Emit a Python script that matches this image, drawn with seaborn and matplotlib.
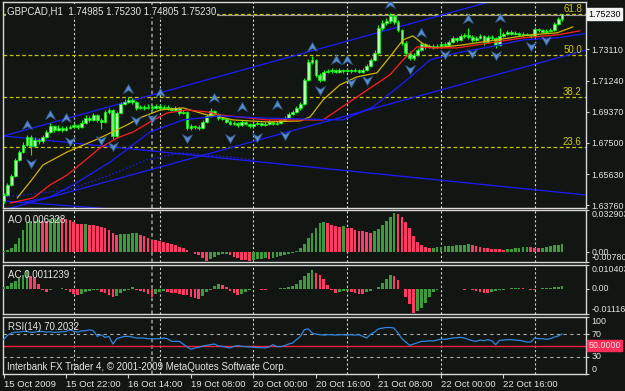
import numpy as np
import matplotlib
matplotlib.use('Agg')
import matplotlib.pyplot as plt
import matplotlib.transforms as mtransforms
from matplotlib.path import Path
import seaborn as sns

sns.set_theme(style='dark')
plt.rcParams['font.family'] = ['Liberation Sans', 'DejaVu Sans']

# ---------------- data ----------------
first_open = 1.6400
closes = [1.6438,1.6498,1.6552,1.6648,1.6696,1.6738,1.6786,1.6732,1.6768,1.6762,
          1.6786,1.6816,1.6852,1.6828,1.6840,1.6828,1.6840,1.6846,1.6858,1.6846,
          1.6870,1.6900,1.6888,1.6918,1.6888,1.6876,1.6936,1.6948,1.6790,1.6930,
          1.6984,1.6996,1.7008,1.6996,1.6960,1.6966,1.6960,1.6966,1.6960,1.6972,
          1.6960,1.6966,1.6960,1.6948,1.6960,1.6930,1.6936,1.6840,1.6852,1.6846,
          1.6840,1.6876,1.6912,1.6942,1.6924,1.6900,1.6894,1.6876,1.6864,1.6870,
          1.6858,1.6876,1.6864,1.6852,1.6864,1.6870,1.6858,1.6864,1.6876,1.6864,
          1.6870,1.6888,1.6900,1.6924,1.6936,1.6960,1.6984,1.7128,1.7236,1.7248,
          1.7158,1.7128,1.7176,1.7182,1.7188,1.7176,1.7188,1.7182,1.7188,1.7182,
          1.7188,1.7176,1.7188,1.7212,1.7248,1.7290,1.7440,1.7470,1.7482,1.7512,
          1.7476,1.7428,1.7350,1.7290,1.7260,1.7278,1.7308,1.7344,1.7326,1.7332,
          1.7326,1.7332,1.7344,1.7338,1.7356,1.7380,1.7368,1.7392,1.7398,1.7386,
          1.7368,1.7380,1.7392,1.7356,1.7386,1.7380,1.7338,1.7392,1.7404,1.7416,
          1.7404,1.7410,1.7398,1.7404,1.7398,1.7392,1.7434,1.7428,1.7416,1.7422,
          1.7428,1.7464,1.7494,1.7523]
highs = [1.6450,1.6510,1.6565,1.6660,1.6710,1.6755,1.6800,1.6795,1.6785,1.6780,
         1.6800,1.6830,1.6870,1.6860,1.6855,1.6850,1.6852,1.6858,1.6870,1.6866,
         1.6885,1.6915,1.6910,1.6932,1.6925,1.6898,1.6950,1.6962,1.6955,1.6942,
         1.6998,1.7012,1.7024,1.7020,1.7002,1.6980,1.6978,1.6985,1.6978,1.6985,
         1.6982,1.6978,1.6975,1.6968,1.6970,1.6966,1.6948,1.6942,1.6862,1.6860,
         1.6858,1.6888,1.6925,1.6960,1.6950,1.6930,1.6908,1.6900,1.6885,1.6880,
         1.6878,1.6888,1.6884,1.6870,1.6875,1.6880,1.6878,1.6875,1.6886,1.6884,
         1.6880,1.6898,1.6912,1.6935,1.6948,1.6972,1.6996,1.7140,1.7255,1.7270,
         1.7255,1.7170,1.7190,1.7195,1.7198,1.7196,1.7198,1.7196,1.7198,1.7195,
         1.7198,1.7196,1.7198,1.7225,1.7262,1.7305,1.7455,1.7490,1.7500,1.7530,
         1.7520,1.7485,1.7436,1.7360,1.7302,1.7292,1.7320,1.7356,1.7352,1.7345,
         1.7342,1.7345,1.7356,1.7355,1.7368,1.7392,1.7388,1.7405,1.7410,1.7440,
         1.7396,1.7392,1.7404,1.7400,1.7398,1.7396,1.7388,1.7440,1.7416,1.7428,
         1.7425,1.7420,1.7418,1.7414,1.7412,1.7406,1.7446,1.7442,1.7436,1.7432,
         1.7438,1.7476,1.7505,1.7523]
lows = [1.6390,1.6430,1.6490,1.6545,1.6640,1.6690,1.6730,1.6680,1.6725,1.6745,
        1.6750,1.6778,1.6810,1.6815,1.6820,1.6818,1.6822,1.6832,1.6838,1.6836,
        1.6840,1.6862,1.6878,1.6880,1.6875,1.6835,1.6870,1.6925,1.6775,1.6780,
        1.6922,1.6975,1.6988,1.6985,1.6950,1.6952,1.6950,1.6952,1.6950,1.6952,
        1.6950,1.6952,1.6950,1.6940,1.6940,1.6920,1.6922,1.6830,1.6830,1.6835,
        1.6830,1.6832,1.6868,1.6905,1.6915,1.6890,1.6885,1.6868,1.6855,1.6855,
        1.6848,1.6850,1.6856,1.6842,1.6845,1.6856,1.6850,1.6850,1.6856,1.6856,
        1.6856,1.6862,1.6880,1.6892,1.6915,1.6928,1.6950,1.6978,1.7120,1.7225,
        1.7145,1.7115,1.7120,1.7168,1.7172,1.7168,1.7170,1.7172,1.7174,1.7172,
        1.7174,1.7168,1.7170,1.7180,1.7205,1.7240,1.7282,1.7430,1.7460,1.7470,
        1.7465,1.7415,1.7338,1.7275,1.7245,1.7250,1.7270,1.7300,1.7316,1.7318,
        1.7316,1.7318,1.7322,1.7328,1.7330,1.7348,1.7358,1.7360,1.7382,1.7376,
        1.7356,1.7360,1.7372,1.7340,1.7348,1.7370,1.7320,1.7330,1.7384,1.7396,
        1.7396,1.7396,1.7390,1.7390,1.7390,1.7382,1.7385,1.7418,1.7408,1.7408,
        1.7414,1.7420,1.7456,1.7481]

ao = [0.00054,0.00136,0.00325,0.00596,0.01084,0.01762,0.02249,0.02439,0.02466,0.02520,
      0.02466,0.02439,0.02547,0.02629,0.02710,0.02683,0.02602,0.02493,0.02331,0.02222,
      0.02168,0.02195,0.02141,0.02114,0.02060,0.01951,0.01843,0.01734,0.01518,0.01355,
      0.01382,0.01409,0.01436,0.01491,0.01518,0.01355,0.01220,0.01084,0.00976,0.00921,
      0.00867,0.00813,0.00705,0.00596,0.00515,0.00407,0.00298,0.00163,0.00020,-0.00136,
      -0.00271,-0.00488,-0.00678,-0.00542,-0.00379,-0.00271,-0.00190,-0.00163,-0.00271,-0.00379,
      -0.00488,-0.00596,-0.00650,-0.00705,-0.00596,-0.00542,-0.00515,-0.00488,-0.00542,-0.00434,
      -0.00352,-0.00298,-0.00244,-0.00163,-0.00054,0.00081,0.00325,0.00596,0.01084,0.01491,
      0.01897,0.02249,0.02385,0.02249,0.02114,0.02033,0.01978,0.02060,0.01897,0.01843,
      0.01762,0.01680,0.01626,0.01572,0.01491,0.01626,0.01789,0.02114,0.02439,0.02764,
      0.03035,0.02981,0.02764,0.02385,0.01897,0.01220,0.00813,0.00542,0.00407,0.00325,
      0.00352,0.00379,0.00407,0.00434,0.00461,0.00488,0.00515,0.00542,0.00569,0.00596,
      0.00542,0.00488,0.00407,0.00352,0.00298,0.00271,0.00244,0.00217,0.00190,0.00217,
      0.00271,0.00325,0.00352,0.00379,0.00407,0.00379,0.00352,0.00325,0.00352,0.00407,
      0.00461,0.00515,0.00569,0.00633]

ac = [0.00077,0.00138,0.00260,0.00352,0.00459,0.00612,0.00842,0.00566,0.00459,0.00199,
      -0.00077,-0.00138,-0.00077,-0.00031,-0.00015,0.00015,-0.00077,-0.00153,-0.00230,-0.00291,
      -0.00230,-0.00153,-0.00107,-0.00077,-0.00046,-0.00153,-0.00199,-0.00275,-0.00383,-0.00306,
      -0.00184,-0.00107,-0.00046,0.00077,-0.00046,-0.00107,-0.00168,-0.00230,-0.00352,-0.00230,
      -0.00153,-0.00107,-0.00153,-0.00184,-0.00199,-0.00230,-0.00260,-0.00275,-0.00383,-0.00413,
      -0.00459,-0.00306,-0.00153,-0.00046,0.00107,0.00199,0.00153,0.00077,-0.00107,-0.00184,
      -0.00275,-0.00230,-0.00153,-0.00077,-0.00015,-0.00031,-0.00046,-0.00061,-0.00031,-0.00015,
      0.00005,0.00015,0.00046,0.00077,0.00107,0.00199,0.00383,0.00536,0.00689,0.00842,
      0.00689,0.00612,0.00413,0.00153,-0.00077,-0.00199,-0.00153,-0.00122,-0.00107,-0.00153,
      -0.00199,-0.00214,-0.00230,-0.00153,-0.00107,-0.00031,0.00077,0.00260,0.00413,0.00612,
      0.00566,0.00383,0.00000,-0.00383,-0.00658,-0.01071,-0.00995,-0.00842,-0.00612,-0.00383,
      -0.00153,-0.00077,-0.00015,-0.00031,-0.00015,-0.00031,-0.00015,-0.00031,-0.00046,-0.00015,
      -0.00046,-0.00107,-0.00153,-0.00184,-0.00199,-0.00153,-0.00107,-0.00077,-0.00046,-0.00015,
      0.00015,0.00031,0.00046,0.00015,-0.00015,-0.00046,-0.00061,-0.00015,0.00015,0.00031,
      0.00046,0.00061,0.00077,0.00112]

rsi = [60.2,67.7,71.8,73.5,73.5,74.7,74.7,72.9,73.5,74.7,
       74.7,73.5,74.1,72.9,73.5,74.1,74.7,77.6,74.7,73.5,
       75.8,75.8,77.6,75.8,66.0,68.9,64.2,66.0,52.6,61.9,
       64.2,66.0,66.0,64.8,63.1,63.1,63.1,61.9,61.9,61.9,
       61.9,63.1,61.9,57.3,57.3,57.3,52.6,47.4,43.4,45.7,
       46.8,49.2,50.3,51.5,52.6,49.2,48.6,46.8,45.7,48.6,
       49.7,48.6,48.0,47.4,46.8,46.3,46.3,45.7,47.4,51.5,
       48.0,48.0,49.7,52.6,54.4,60.2,66.0,77.6,79.3,71.8,
       70.0,68.9,68.3,68.9,68.9,68.3,68.9,68.9,68.3,68.9,
       68.3,68.9,66.0,63.1,70.0,73.5,79.3,80.5,81.6,81.6,
       80.5,71.8,61.9,56.1,50.3,52.6,55.0,57.3,57.3,58.4,
       57.9,59.6,61.3,60.8,61.9,63.1,63.7,64.2,63.1,60.8,
       58.4,57.3,59.6,58.4,60.2,58.4,51.5,59.0,59.6,60.2,
       60.2,59.6,59.0,57.9,56.1,56.1,63.1,61.9,61.9,60.8,
       61.9,64.8,66.6,70.2]

# Alligator-style moving averages (knots)
lips_i = [3.5,7.6,10.1,16.3,24.7,31.6,34.9,40.1,46.0,52.1,55.4,58.8,67.5,75.9,78.5,81.8,86.1,90.5,95.6,98.9,
          102.3,104.8,107.4,110.0,113.0,117.6,126.3,134.8,141.7,145.8]
lips_p = [1.6420,1.6540,1.6618,1.6696,1.6780,1.6858,1.6900,1.6948,1.6960,1.6918,1.6906,1.6888,1.6876,1.6882,
          1.6906,1.7008,1.7098,1.7146,1.7170,1.7266,1.7368,1.7392,1.7344,1.7320,1.7326,1.7338,1.7368,1.7398,
          1.7410,1.7446]
teeth_i = [1.7,7.6,11.9,16.3,20.4,24.7,29.1,33.2,37.5,41.9,47.0,52.1,55.4,67.5,75.9,81.8,90.5,98.9,102.3,
           105.9,110.0,116.1,124.6,133.0,141.7,147.6]
teeth_p = [1.6390,1.6420,1.6498,1.6558,1.6636,1.6720,1.6780,1.6816,1.6876,1.6930,1.6948,1.6936,1.6918,1.6888,
           1.6888,1.6888,1.7026,1.7158,1.7248,1.7326,1.7320,1.7320,1.7350,1.7380,1.7398,1.7422]
jaw_i = [4.2,11.9,17.8,27.3,37.5,46.0,55.4,65.7,75.9,86.9,94.6,103.3,109.2,116.1,124.6,133.0,141.7,150.1]
jaw_p = [1.6390,1.6426,1.6498,1.6636,1.6816,1.6888,1.6912,1.6900,1.6894,1.6888,1.6966,1.7128,1.7248,1.7290,
         1.7326,1.7368,1.7380,1.7410]

# trend / channel lines (end points)
chan_upper = ([0, 149.2], [1.6792, 1.7756])
chan_lower = ([0, 149.2], [1.6348, 1.7307])
trend_down = ([0, 149.2], [1.6792, 1.6438])
trend_short = ([0, 30], [1.6402, 1.6350])
curve_i = [0.4, 16.3, 27.3, 36.7, 45.2, 58.0, 64.0]
curve_p = [1.6426, 1.6468, 1.6558, 1.6648, 1.6690, 1.6666, 1.6648]

frac_up_i = [6,12,16,32,40,54,61,70,79,85,88,99,107,119,127]
frac_up_p = [1.6858,1.6918,1.6900,1.7074,1.7050,1.7020,1.6966,1.6978,1.7326,1.7248,1.7248,1.7583,1.7410,1.7494,1.7500]
frac_dn_i = [7,17,25,28,34,38,47,58,65,72,81,89,93,104,113,120,126,135,139]
frac_dn_p = [1.6630,1.6762,1.6768,1.6732,1.6888,1.6900,1.6780,1.6780,1.6786,1.6798,1.7068,1.7116,1.7128,1.7194,
             1.7284,1.7290,1.7278,1.7332,1.7368]

fibo_levels = [1.7523, 1.7278, 1.7026, 1.6726]
fibo_labels = ['61.8', '50.0', '38.2', '23.6']

price_ticks = [1.73110, 1.71240, 1.69370, 1.67500, 1.65630, 1.63760]
last_price = 1.75230
day_lines = [18, 40, 64, 88, 112, 136]
weekend_line = 38
time_ticks = [0, 16, 32, 48, 64, 80, 96, 112, 128]
time_labels = ['15 Oct 2009', '15 Oct 22:00', '16 Oct 14:00', '19 Oct 08:00', '20 Oct 00:00',
               '20 Oct 16:00', '21 Oct 08:00', '22 Oct 00:00', '22 Oct 16:00']

# ---------------- figure ----------------
W, H = 625, 391
BG = '#121612'
TXT = '#e4e4e4'
FS = 6.4
fig = plt.figure(figsize=(W / 100, H / 100), dpi=100)
fig.patch.set_facecolor(BG)
XLIM = (-0.13, 149.13)


def panel(y0, y1):
    ax = fig.add_axes([3 / W, 1 - y1 / H, 583 / W, (y1 - y0) / H])
    ax.set_facecolor(BG)
    for s in ax.spines.values():
        s.set_color('#d8d8d8')
        s.set_linewidth(1.0)
    ax.grid(False)
    ax.set_xlim(*XLIM)
    ax.set_xlabel('')
    ax.set_ylabel('')
    for i in day_lines:
        ax.axvline(i, color='#d0d0d0', ls=(0, (2, 2)), lw=0.8, zorder=1)
    ax.axvline(weekend_line, color='#8a8a8a', ls=(0, (2, 1.5)), lw=1.3, zorder=1)
    return ax


def right_ticks(ax, ticks, labels, vas=None):
    ax.yaxis.tick_right()
    ax.set_yticks(ticks)
    ax.set_yticklabels(labels)
    ax.tick_params(axis='y', which='both', direction='out', length=2, width=0.8, color='#d0d0d0',
                   labelsize=FS, labelcolor=TXT, pad=2, left=False, right=True)
    if vas:
        for t, va in zip(ax.get_yticklabels(), vas):
            t.set_va(va)


x = np.arange(len(closes))
opens = [first_open] + closes[:-1]

# ---- main price panel ----
ax = panel(2, 208)
ax.set_ylim(1.6360, 1.7595)
for lv, lb in zip(fibo_levels, fibo_labels):
    ax.axhline(lv, color='#c8c400', ls=(0, (3, 2)), lw=0.9, zorder=1)
    ax.text(0.993, lv, lb, transform=mtransforms.blended_transform_factory(ax.transAxes, ax.transData),
            ha='right', va='bottom', color='#d0cc00', fontsize=FS + 0.6)
ax.axhline(last_price - 0.0003, color='#9a9a9a', lw=0.8, zorder=1)

blue = '#1c1cff'
for (xs, ys) in [chan_upper, chan_lower, trend_down, trend_short]:
    ax.plot(xs, ys, color=blue, lw=0.9, zorder=2)
ax.plot(curve_i, curve_p, color=blue, lw=1.0, ls=':', zorder=2)

o = np.array(opens)
c = np.array(closes)
ax.vlines(x, lows, highs, color='#00ff00', lw=0.8, zorder=3)
bot = np.minimum(o, c)
hgt = np.maximum(np.abs(c - o), 0.00012)
fills = ['#b4ffb4' if cc >= oo else '#78f078' for oo, cc in zip(o, c)]
ax.bar(x, hgt, bottom=bot, width=0.72, color=fills, edgecolor='#00ff00', linewidth=0.5, zorder=3)

sns.lineplot(x=lips_i, y=lips_p, ax=ax, color='#d2b400', lw=0.9, sort=False, estimator=None, zorder=4)
sns.lineplot(x=teeth_i, y=teeth_p, ax=ax, color='#ff2020', lw=0.9, sort=False, estimator=None, zorder=4)
sns.lineplot(x=jaw_i, y=jaw_p, ax=ax, color=blue, lw=0.9, sort=False, estimator=None, zorder=4)

up_path = Path([(0, 1), (1, -0.8), (0, -0.2), (-1, -0.8), (0, 1)],
               [Path.MOVETO, Path.LINETO, Path.LINETO, Path.LINETO, Path.CLOSEPOLY])
dn_path = Path([(0, -1), (1, 0.8), (0, 0.2), (-1, 0.8), (0, -1)],
               [Path.MOVETO, Path.LINETO, Path.LINETO, Path.LINETO, Path.CLOSEPOLY])
ax.scatter(frac_up_i, frac_up_p, marker=up_path, s=52, color='#5a8dcc', edgecolor='#2d5a92',
           linewidth=0.5, zorder=5)
ax.scatter(frac_dn_i, frac_dn_p, marker=dn_path, s=52, color='#5a8dcc', edgecolor='#2d5a92',
           linewidth=0.5, zorder=5)

right_ticks(ax, price_ticks, [f'{v:.5f}' for v in price_ticks])
ax.tick_params(axis='x', bottom=False, labelbottom=False)
ax.text(1.004, last_price, f'{last_price:.5f}',
        transform=mtransforms.blended_transform_factory(ax.transAxes, ax.transData),
        ha='left', va='center', fontsize=FS, color='black', clip_on=False, zorder=10,
        bbox=dict(facecolor='#f2f2f2', edgecolor='#f2f2f2', pad=0.8))

# ---- AO ----
ax2 = panel(210, 262)
ax2.set_ylim(-0.0078, 0.032903)
ao_cols = ['#3c9c3c' if (i == 0 or ao[i] > ao[i - 1]) else '#ff3a66' for i in range(len(ao))]
ax2.bar(x, ao, width=0.7, color=ao_cols, linewidth=0, zorder=3)
right_ticks(ax2, [0.032903, 0.0, -0.0078], ['0.032903', '0.00', '-0.00780'], ['top', 'center', 'bottom'])
ax2.tick_params(axis='x', bottom=False, labelbottom=False)

# ---- AC ----
ax3 = panel(265, 314)
ax3.set_ylim(-0.01116, 0.010403)
ac_cols = ['#3c9c3c' if (i == 0 or ac[i] > ac[i - 1]) else '#ff3a66' for i in range(len(ac))]
ax3.bar(x, ac, width=0.7, color=ac_cols, linewidth=0, zorder=3)
right_ticks(ax3, [0.010403, 0.0, -0.01116], ['0.010403', '0.00', '-0.01116'], ['top', 'center', 'bottom'])
ax3.tick_params(axis='x', bottom=False, labelbottom=False)

# ---- RSI ----
ax4 = panel(317, 374)
ax4.set_ylim(0, 100)
for lv in (70, 30):
    ax4.axhline(lv, color='#a8a8a8', ls=(0, (3, 3)), lw=0.8, zorder=1)
ax4.axhline(50, color='#ff2040', lw=1.0, zorder=2)
sns.lineplot(x=x, y=rsi, ax=ax4, color='#2f86e0', lw=0.9, sort=False, estimator=None, zorder=4)
right_ticks(ax4, [100, 70, 30, 0], ['100', '70', '30', '0'], ['top', 'center', 'center', 'bottom'])
ax4.text(1.004, 50, '50.0000', transform=mtransforms.blended_transform_factory(ax4.transAxes, ax4.transData),
         ha='left', va='center', fontsize=FS, color='#ffe6ea', clip_on=False, zorder=10,
         bbox=dict(facecolor='#ff2d58', edgecolor='#ff2d58', pad=0.8))
ax4.set_xticks(time_ticks)
ax4.set_xticklabels(time_labels)
ax4.tick_params(axis='x', direction='out', length=3, width=0.8, color='#d0d0d0',
                labelsize=FS + 0.4, labelcolor=TXT, pad=1, bottom=True)
for t in ax4.get_xticklabels():
    t.set_ha('left')

# ---- texts ----
fig.text(7 / W, 1 - 11 / H, 'GBPCAD,H1  1.74985 1.75230 1.74805 1.75230', ha='left', va='center',
         color=TXT, fontsize=FS + 0.6, zorder=20,
         bbox=dict(facecolor=BG, edgecolor='none', pad=0.6))
fig.text(8 / W, 1 - 220 / H, 'AO 0.006328', ha='left', va='center', color=TXT, fontsize=FS + 0.6)
fig.text(8 / W, 1 - 275 / H, 'AC 0.0011239', ha='left', va='center', color=TXT, fontsize=FS + 0.6)
fig.text(8 / W, 1 - 327 / H, 'RSI(14) 70.2032', ha='left', va='center', color=TXT, fontsize=FS + 0.6)
fig.text(7 / W, 1 - 367 / H, 'Interbank FX Trader 4, \u00a9 2001-2009 MetaQuotes Software Corp.',
         ha='left', va='center', color=TXT, fontsize=FS + 0.6)

fig.savefig('out.png', dpi=100, facecolor=BG)
